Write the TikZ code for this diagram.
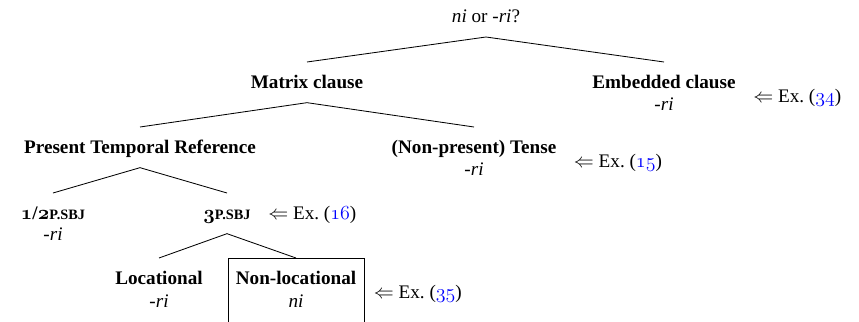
\documentclass[tikz,border=0pt]{standalone}
\usepackage{fontspec}
\setmainfont{Liberation Serif}
\usetikzlibrary{calc}
\newcommand{\osn}[1]{{\usefont{OML}{cmm}{m}{it}#1}}
\newcommand{\osnb}[1]{{\usefont{OML}{cmm}{b}{it}#1}}
\newcommand{\exref}[1]{$\Leftarrow$ Ex.~(\textcolor{blue}{\osn{#1}})}
\newcommand{\fsc}[1]{{\fontsize{8.6}{9}\selectfont #1}}
\begin{document}
\begin{tikzpicture}[x=0.6pt,y=-0.6pt,
  every node/.style={font=\fontsize{11.5}{13}\selectfont},
  tn/.style={font=\fontsize{11.5}{13}\selectfont\bfseries, anchor=north, inner xsep=2pt, inner ysep=6.5pt, text height=9pt, text depth=2pt},
  sub/.style={font=\fontsize{11.5}{13}\selectfont\itshape, anchor=base, inner sep=0pt},
  exr/.style={anchor=base west, inner sep=0pt},
  edge/.style={line width=0.5pt}]
\clip (0,0) rectangle (859,322);
\node[tn, anchor=south, font=\fontsize{11.5}{13}\selectfont] (root) at (486,37) {\textit{ni} or \textit{-ri}?};
\node[tn] (mat) at (307,62) {Matrix clause};
\node[tn] (emb) at (664,62) {Embedded clause};
\node[sub] (embri) at ([yshift=-13.5pt]emb.base) {-ri};
\node[exr] (embex) at ([xshift=8.2pt,yshift=-8.4pt]emb.base east) {\exref{34}};
\node[tn] (ptr) at (140,127) {Present Temporal Reference};
\node[tn] (np) at (474,127) {(Non-present) Tense};
\node[sub] (npri) at ([yshift=-13.5pt]np.base) {-ri};
\node[exr] (npex) at ([xshift=8.2pt,yshift=-8.4pt]np.base east) {\exref{15}};
\node[tn] (p12) at (53,193) {\osnb{1}/\osnb{2}\fsc{P.SBJ}};
\node[sub] (p12ri) at ([yshift=-13pt]p12.base) {-ri};
\node[tn] (p3) at (227,193) {\osnb{3}\fsc{P.SBJ}};
\node[exr] (p3ex) at ([xshift=8.2pt]p3.base east) {\exref{16}};
\node[tn] (loc) at (159,258) {Locational};
\node[sub] (locri) at ([yshift=-14pt]loc.base) {-ri};
\node[tn, inner xsep=4.5pt] (nl) at (296,258) {Non-locational};
\node[sub] (nlni) at ([yshift=-14pt]nl.base) {ni};
\coordinate (bot) at (0,330);
\draw[edge] (nl.north west) rectangle (nl.east |- bot);
\node[exr] (nlex) at ([xshift=5.7pt,yshift=-8.4pt]nl.base east) {\exref{35}};
\draw[edge] (mat.north) -- (root.south) -- (emb.north);
\draw[edge] (ptr.north) -- (mat.south) -- (np.north);
\draw[edge] (p12.north) -- (ptr.south) -- (p3.north);
\draw[edge] (loc.north) -- (p3.south) -- (nl.north);
\end{tikzpicture}
\end{document}
